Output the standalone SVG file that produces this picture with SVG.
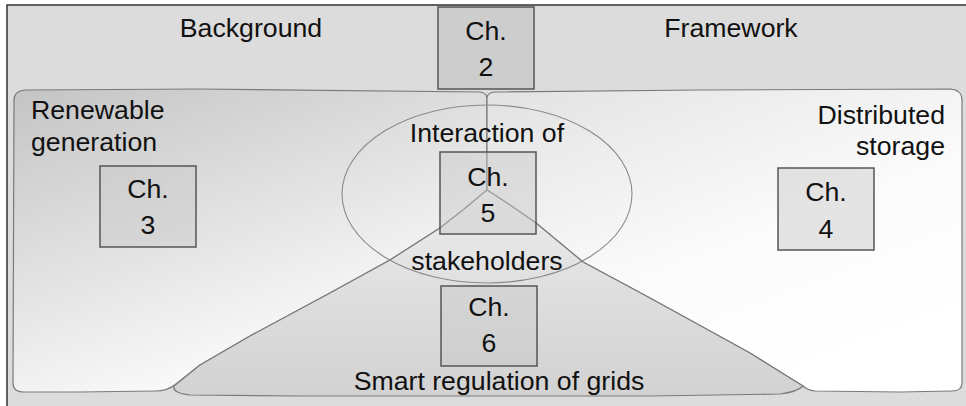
<svg xmlns="http://www.w3.org/2000/svg" width="966" height="406" viewBox="0 0 966 406">
  <defs>
    <linearGradient id="gLeft" x1="0" y1="0" x2="0.55" y2="1">
      <stop offset="0" stop-color="#c4c4c4"/>
      <stop offset="1" stop-color="#ffffff"/>
    </linearGradient>
    <linearGradient id="gRight" x1="0" y1="0" x2="0.6" y2="1">
      <stop offset="0" stop-color="#e2e2e2"/>
      <stop offset="0.6" stop-color="#fbfbfb"/>
      <stop offset="1" stop-color="#ffffff"/>
    </linearGradient>
    <linearGradient id="gBottom" x1="0" y1="0" x2="0" y2="1">
      <stop offset="0" stop-color="#eeeeee"/>
      <stop offset="0.5" stop-color="#dedede"/>
      <stop offset="1" stop-color="#d2d2d2"/>
    </linearGradient>
    <style>
      .region { stroke: #7a7a7a; stroke-width: 1.2; stroke-linejoin: round; }
      .box { fill: #c8c8c8; fill-opacity: 0.45; stroke: #555; stroke-width: 1.5; }
      .lbl { font-family: "Liberation Sans", Arial, sans-serif; font-size: 26.7px; fill: #111; }
      .mid { text-anchor: middle; }
      .end { text-anchor: end; }
    </style>
  </defs>

  <!-- frame -->
  <rect x="7" y="5" width="975" height="420" fill="#dcdcdc" stroke="#333" stroke-width="1.5"/>

  <!-- areas -->
  <g id="renewable-area">
    <path class="region" fill="url(#gLeft)" d="M14,100 Q14,91 25,90 L200,89 L480,92 Q486,93 487,97 L487,190 L463,210 L440,228 L390,260 L330,293 L250,336 L200,365 L176,384 Q168,391 155,391 L80,392 L24,392 Q13,392 13,383 Z"/>
  </g>
  <g id="storage-area">
    <path class="region" fill="url(#gRight)" d="M487,97 Q488,93 494,92 L700,90 L950,89 Q962,90 962,100 L962,383 Q962,391 952,391 L900,392 L815,391 Q807,390 803,386 L790,378 L750,353 L650,298 L583,262 L536,223 L510,205 L487,190 Z"/>
  </g>
  <g id="regulation-area">
    <path class="region" fill="url(#gBottom)" d="M487,190 L510,205 L536,223 L583,262 L650,298 L750,353 L790,378 L803,386 Q797,392 780,394 L650,396 L300,396 L190,395 Q172,393 174,386 L200,365 L250,336 L330,293 L390,260 L440,228 L463,210 Z"/>
  </g>

  <!-- stakeholder ellipse -->
  <g id="interaction">
    <ellipse cx="487" cy="194" rx="145" ry="89" fill="none" stroke="#8a8a8a" stroke-width="1.1"/>
    <text class="lbl mid" x="487" y="142">Interaction of</text>
    <text class="lbl mid" x="487" y="270">stakeholders</text>
  </g>

  <!-- section titles -->
  <g id="background">
    <text class="lbl mid" x="251" y="37">Background</text>
  </g>
  <g id="framework">
    <text class="lbl mid" x="731" y="37">Framework</text>
  </g>
  <g id="renewable-title">
    <text class="lbl" x="31" y="119">Renewable</text>
    <text class="lbl" x="31" y="151">generation</text>
  </g>
  <g id="storage-title">
    <text class="lbl end" x="945" y="124">Distributed</text>
    <text class="lbl end" x="945" y="155">storage</text>
  </g>
  <g id="regulation-title">
    <text class="lbl mid" x="499" y="390">Smart regulation of grids</text>
  </g>

  <!-- chapter boxes -->
  <g id="ch2">
    <rect class="box" x="438" y="7" width="96" height="82" style="fill-opacity:0.75"/>
    <text class="lbl mid" x="486" y="40">Ch.</text>
    <text class="lbl mid" x="486" y="76">2</text>
  </g>
  <g id="ch3">
    <rect class="box" x="100" y="166" width="96" height="81"/>
    <text class="lbl mid" x="148" y="198">Ch.</text>
    <text class="lbl mid" x="148" y="234">3</text>
  </g>
  <g id="ch4">
    <rect class="box" x="778" y="168" width="96" height="82"/>
    <text class="lbl mid" x="826" y="201">Ch.</text>
    <text class="lbl mid" x="826" y="238">4</text>
  </g>
  <g id="ch5">
    <rect class="box" x="440" y="152" width="96" height="82"/>
    <text class="lbl mid" x="488" y="186">Ch.</text>
    <text class="lbl mid" x="488" y="222">5</text>
  </g>
  <g id="ch6">
    <rect class="box" x="441" y="286" width="96" height="80"/>
    <text class="lbl mid" x="489" y="316">Ch.</text>
    <text class="lbl mid" x="489" y="352">6</text>
  </g>
</svg>
